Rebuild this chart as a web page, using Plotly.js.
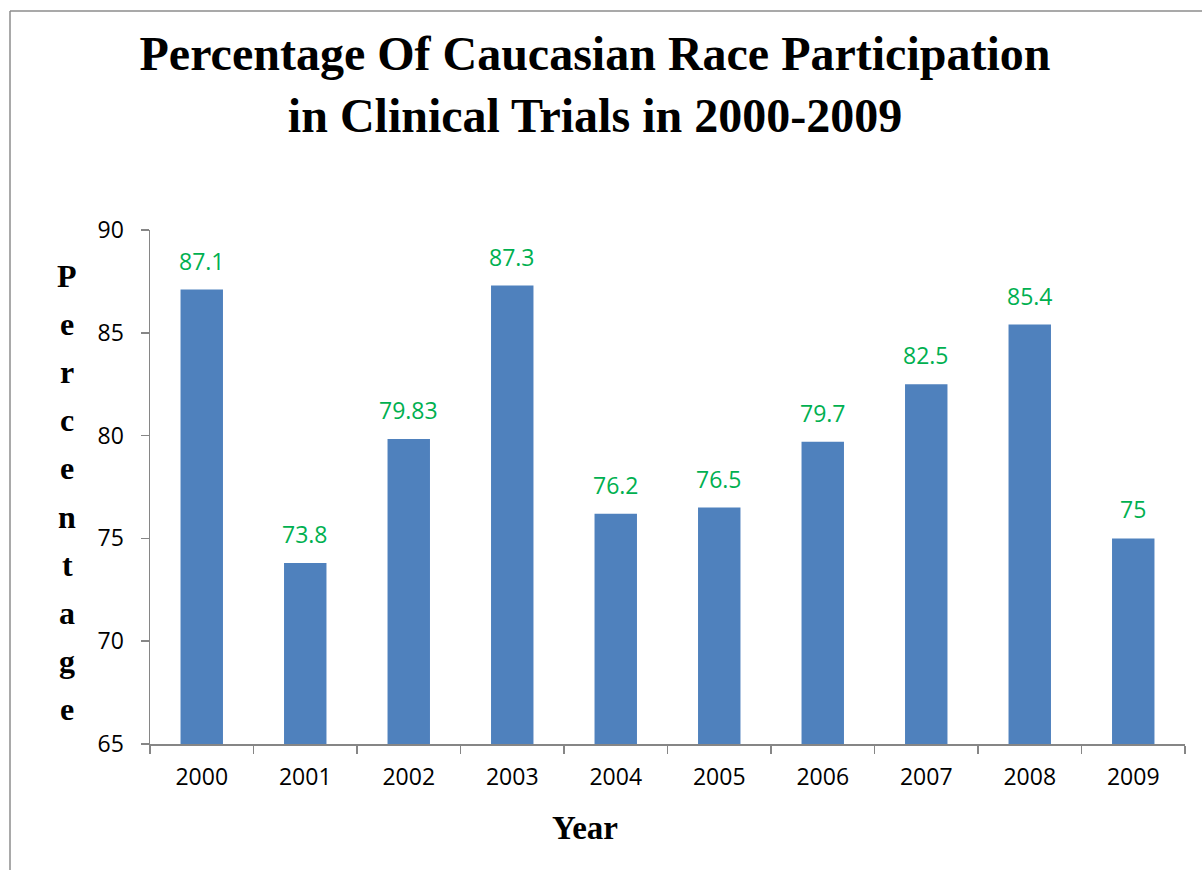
<!DOCTYPE html>
<html>
<head>
<meta charset="utf-8">
<script src="https://cdn.plot.ly/plotly-3.0.1.min.js"></script>
<style>
  html, body { margin: 0; padding: 0; background: #fff; }
  #chart { width: 1202px; height: 870px; }
</style>
</head>
<body>
<div id="chart"></div>
<script>
// ---- data ----
const years = ["2000", "2001", "2002", "2003", "2004", "2005", "2006", "2007", "2008", "2009"];
const percentages = [87.1, 73.8, 79.83, 87.3, 76.2, 76.5, 79.7, 82.5, 85.4, 75];
const valueLabels = ["87.1", "73.8", "79.83", "87.3", "76.2", "76.5", "79.7", "82.5", "85.4", "75"];
const yTickValues = [65, 70, 75, 80, 85, 90];
const chartTitle = "Percentage Of Caucasian Race Participation<br>in Clinical Trials in 2000-2009";
const xTitle = "Year";
const yTitle = "Percentage";

// ---- layout geometry (pixels) ----
const W = 1202, H = 870;
const M = { l: 150, r: 17, t: 230, b: 126 };
const plotW = W - M.l - M.r, plotH = H - M.t - M.b;
const px2x = p => (p - M.l) / plotW;
const py2y = p => (H - M.b - p) / plotH;

const serif = "'Liberation Serif', 'Times New Roman', serif";
const sans = "'Open Sans', 'Noto Sans', sans-serif";
const axisGray = "#868686";

const annotations = [];

// data labels (category axis: position by category index)
years.forEach((yr, i) => {
  annotations.push({
    x: i, y: percentages[i], xref: "x", yref: "y",
    text: valueLabels[i], showarrow: false,
    xanchor: "center", yanchor: "bottom", yshift: 11,
    font: { family: sans, size: 23, color: "#00B050" }
  });
});

// vertical stacked y-axis title letters
const letters = yTitle.split("");
const firstCenter = 276, lastCenter = 709;
letters.forEach((ch, i) => {
  const cy = firstCenter + i * (lastCenter - firstCenter) / (letters.length - 1);
  annotations.push({
    x: px2x(67), y: py2y(cy), xref: "paper", yref: "paper",
    text: "<b>" + ch + "</b>", showarrow: false, xanchor: "center", yanchor: "middle",
    font: { family: serif, size: 32, color: "#000" }
  });
});

// x-axis title
annotations.push({
  x: px2x(585), y: py2y(828), xref: "paper", yref: "paper",
  text: "<b>" + xTitle + "</b>", showarrow: false, xanchor: "center", yanchor: "middle",
  font: { family: serif, size: 33, color: "#000" }
});

const data = [{
  type: "bar",
  x: years,
  y: percentages,
  marker: { color: "#4F81BD" },
  hoverinfo: "x+y"
}];

const layout = {
  width: W, height: H,
  margin: M,
  paper_bgcolor: "#fff",
  plot_bgcolor: "#fff",
  showlegend: false,
  bargap: 0.59,
  title: {
    text: "<b>" + chartTitle + "</b>",
    font: { family: serif, size: 48, color: "#000" },
    x: 595 / W, xanchor: "center",
    y: 1 - 70 / H, yanchor: "top", xref: "container", yref: "container"
  },
  xaxis: {
    type: "category",
    categoryorder: "array", categoryarray: years,
    range: [-0.5, years.length - 0.5],
    showgrid: false,
    showline: true, linecolor: axisGray, linewidth: 1.5,
    ticks: "outside", tickson: "boundaries", ticklen: 8, tickcolor: axisGray, tickwidth: 1.5,
    ticklabelstandoff: 12,
    tickangle: 0,
    tickfont: { family: sans, size: 23, color: "#000" },
    zeroline: false
  },
  yaxis: {
    range: [65, 90],
    tickvals: yTickValues,
    showgrid: false,
    showline: true, linecolor: axisGray, linewidth: 1.5,
    ticks: "outside", ticklen: 8, tickcolor: axisGray, tickwidth: 1.5,
    ticklabelstandoff: 12,
    tickfont: { family: sans, size: 23, color: "#000" },
    zeroline: false
  },
  shapes: [
    { type: "line", xref: "paper", yref: "paper",
      x0: px2x(10), y0: py2y(H + 5), x1: px2x(10), y1: py2y(11),
      line: { color: "#8c8c8c", width: 1.5 } },
    { type: "line", xref: "paper", yref: "paper",
      x0: px2x(10), y0: py2y(11), x1: px2x(W + 5), y1: py2y(11),
      line: { color: "#8c8c8c", width: 1.5 } }
  ],
  annotations: annotations
};

Plotly.newPlot("chart", data, layout, { displayModeBar: false, staticPlot: true });
</script>
</body>
</html>
